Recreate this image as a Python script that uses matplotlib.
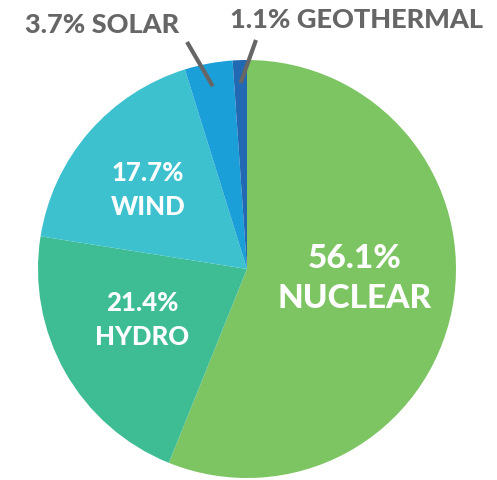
import matplotlib
matplotlib.use("Agg")
import matplotlib.pyplot as plt
import numpy as np

labels = ["NUCLEAR", "HYDRO", "WIND", "SOLAR", "GEOTHERMAL"]
values = [56.1, 21.4, 17.7, 3.7, 1.1]
colors = ["#7dc463", "#3ebd94", "#3dc1cf", "#1b9fd8", "#2169b3"]

W, H = 497, 480
fig = plt.figure(figsize=(W / 100, H / 100), dpi=100)
ax = fig.add_axes([0, 0, 1, 1])

cx, cy, R = 247, 480 - 269, 209
wedges, _ = ax.pie(values, colors=colors, startangle=90, counterclock=False,
                   center=(cx, cy), radius=R, frame=True,
                   wedgeprops=dict(linewidth=0))
ax.set_xlim(0, W)
ax.set_ylim(0, H)
ax.axis("off")
ax.set_aspect("equal")

fam = ["Lato", "DejaVu Sans"]
WT = 900
def fmt(i):
    return f"{values[i]:.1f}%"

def txt(x, y, s, size, color="white"):
    ax.text(x, H - y, s, color=color, fontsize=size, fontweight=WT,
            family=fam, ha="center", va="center")

# inside labels
txt(355, 258, fmt(0), 24)
txt(355, 299, labels[0], 24)
txt(142, 303, fmt(1), 18.5)
txt(142, 337, labels[1], 18.5)
txt(148, 173, fmt(2), 18.5)
txt(148, 207, labels[2], 18.5)

# outside labels with leader lines
gray = "#666666"
def mid_point(w, frac=0.89):
    a = np.deg2rad((w.theta1 + w.theta2) / 2)
    return cx + R * frac * np.cos(a), cy + R * frac * np.sin(a)

sx, sy = mid_point(wedges[3])
ax.plot([187, sx], [H - 42, sy], color=gray, lw=3, solid_capstyle="butt")
txt(102, 25, f"{fmt(3)} {labels[3]}", 19.5, gray)

gx, gy = mid_point(wedges[4])
ax.plot([256, gx], [H - 40, gy], color=gray, lw=3, solid_capstyle="butt")
txt(357, 20, f"{fmt(4)} {labels[4]}", 19.5, gray)

fig.savefig("out.png", dpi=100, facecolor="white")
